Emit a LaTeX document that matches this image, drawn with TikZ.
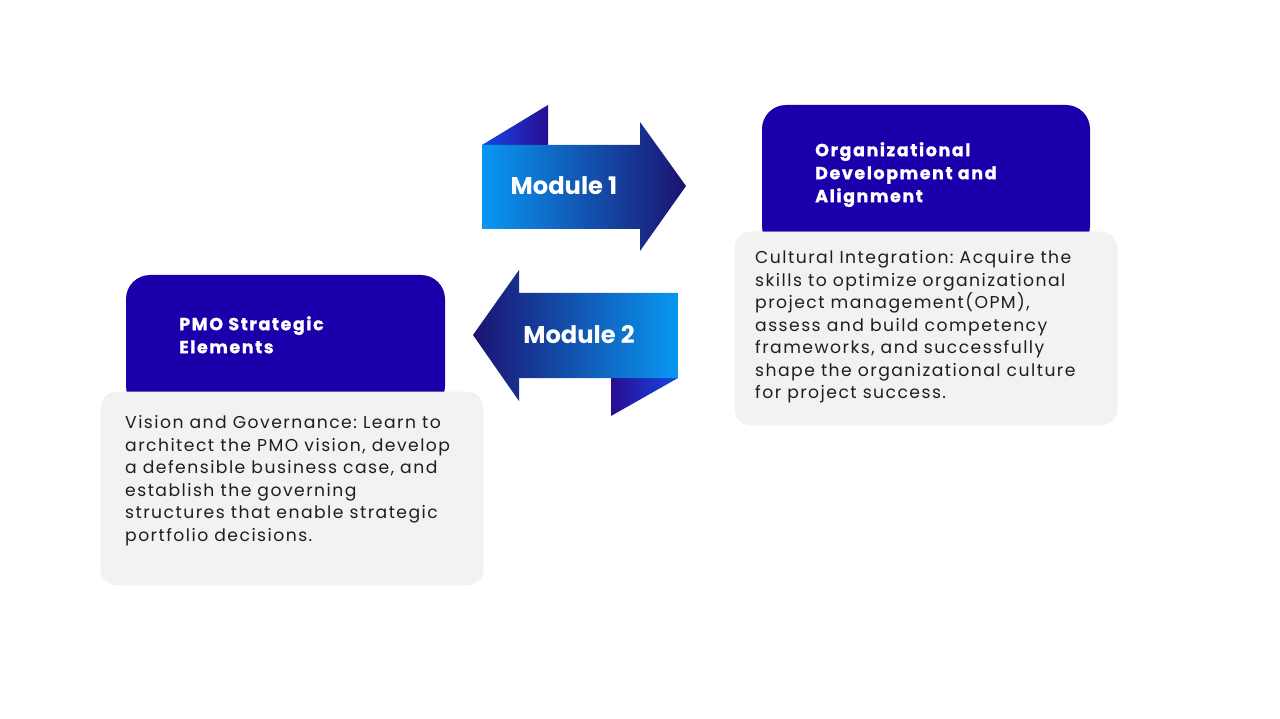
\documentclass[tikz,border=0pt]{standalone}
\usepackage{fontspec}
\setmainfont{Poppins}
\newfontfamily\bodyfont[LetterSpace=8.5]{Poppins}
\newfontfamily\titlefont[LetterSpace=9, BoldFeatures={FakeBold=0.8}]{Poppins}
\definecolor{cardblue}{HTML}{1A00AA}
\definecolor{lightblue}{HTML}{0898F2}
\definecolor{navy}{HTML}{1C1270}
\definecolor{foldblue}{HTML}{1448E6}
\definecolor{folddark}{HTML}{2A0C92}
\definecolor{cardgray}{HTML}{F2F2F2}
\definecolor{bodytext}{HTML}{1E1E1E}
\frenchspacing
\begin{document}
\begin{tikzpicture}[x=1pt,y=-1pt,
  headcard/.style={fill=cardblue, rounded corners=24pt},
  bodycard/.style={fill=cardgray, draw=black!6, line width=0.6pt, rounded corners=16pt},
  titletext/.style={text=white, font=\titlefont\fontsize{17.5}{23}\selectfont\bfseries, align=left, anchor=north west, inner sep=0pt},
  bodytextstyle/.style={text=bodytext, font=\bodyfont\fontsize{17.2}{22.5}\selectfont, align=left, anchor=north west, inner sep=0pt},
  modtext/.style={text=white, font=\fontsize{24.2}{28}\selectfont\bfseries, inner sep=0pt}]
\useasboundingbox (0,0) rectangle (1280,719);
\fill[white] (0,0) rectangle (1280,719);

% Module 1 arrow
\shade[left color=foldblue, right color=folddark] (482,145) -- (548,105) -- (548,145) -- cycle;
\shade[left color=lightblue, right color=navy] (482,145) -- (640,145) -- (640,122) -- (686,186) -- (640,251) -- (640,229) -- (482,229) -- cycle;
\node[modtext] (m1) at (564,186) {Module 1};

% Module 2 arrow
\shade[left color=folddark, right color=foldblue] (611,378) -- (678,378) -- (611,416) -- cycle;
\shade[left color=navy, right color=lightblue] (678,293) -- (519,293) -- (519,270) -- (473,335) -- (519,401) -- (519,378) -- (678,378) -- cycle;
\node[modtext] (m2) at (579,335) {Module 2};

% Right card
\fill[headcard] (762,105) rectangle (1090,250);
\fill[bodycard] (735,232) rectangle (1117,425);
\node[titletext] (t1) at (815,142) {Organizational\\Development and\\Alignment};
\node[bodytextstyle] (b1) at (755,250.5) {Cultural Integration: Acquire the\\skills to optimize organizational\\project management(OPM),\\assess and build competency\\frameworks, and successfully\\shape the organizational culture\\for project success.};

% Left card
\fill[headcard] (126,275) rectangle (445,410);
\fill[bodycard] (101,392) rectangle (483,585);
\node[titletext] (t2) at (179,316) {PMO Strategic\\Elements};
\node[bodytextstyle] (b2) at (125,415.5) {Vision and Governance: Learn to\\architect the PMO vision, develop\\a defensible business case, and\\establish the governing\\structures that enable strategic\\portfolio decisions.};
\end{tikzpicture}
\end{document}
